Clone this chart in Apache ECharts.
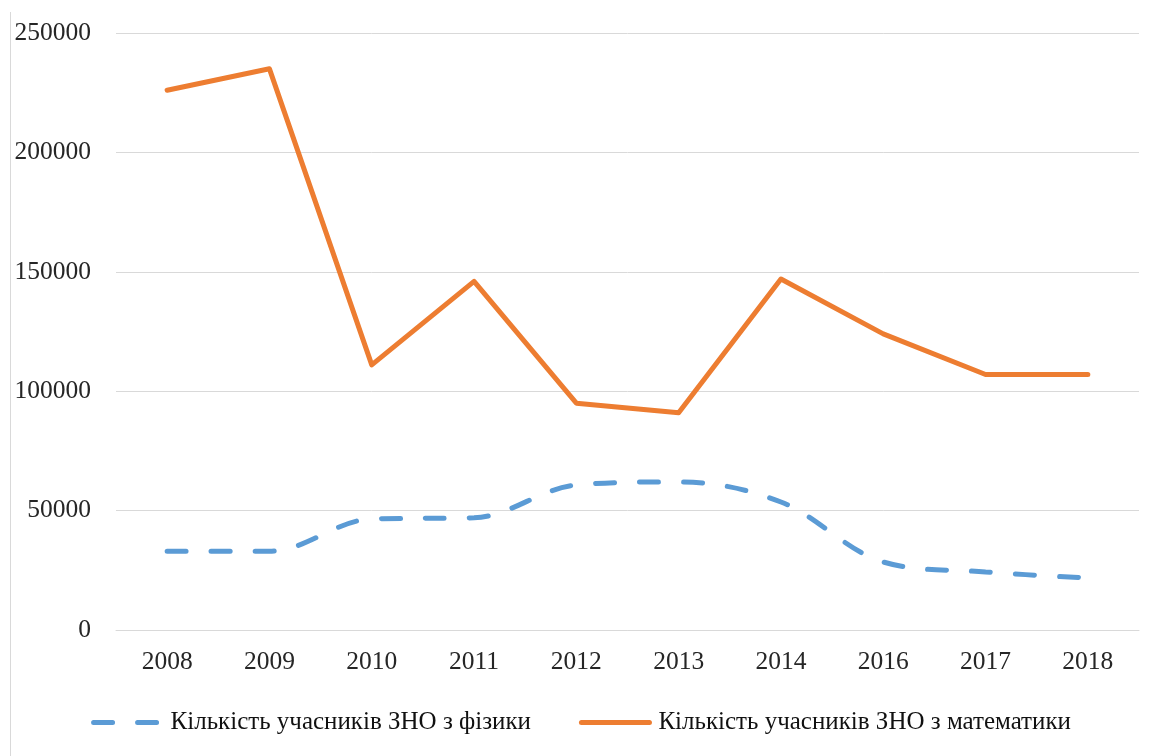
<!DOCTYPE html>
<html>
<head>
<meta charset="utf-8">
<script src="https://cdn.jsdelivr.net/npm/echarts@6/dist/echarts.min.js"></script>
<style>
  html, body { margin: 0; padding: 0; background: #fff; }
  #chart { width: 1162px; height: 756px; }
</style>
</head>
<body>
<div id="chart"></div>
<script>
const years = ['2008', '2009', '2010', '2011', '2012', '2013', '2014', '2016', '2017', '2018'];
const physics = [33000, 33000, 46500, 47000, 60700, 62000, 53600, 28500, 24300, 21800];
const maths = [226000, 235000, 111000, 146000, 95000, 91000, 147000, 124000, 107000, 107000];
const physicsName = 'Кількість учасників ЗНО з фізики';
const mathsName = 'Кількість учасників ЗНО з математики';

const font = '"Liberation Serif", "Times New Roman", serif';

let chart = echarts.init(document.getElementById('chart'));
chart.setOption({
    animation: false,
    grid: {
        left: 116,
        right: 23,
        top: 33,
        bottom: 126
    },
    legend: {
        bottom: 16,
        left: 'center',
        itemWidth: 68,
        itemHeight: 10,
        itemGap: 48,
        textStyle: {
            fontFamily: font,
            fontSize: 25,
            color: '#111',
            padding: [0, 0, 0, 4]
        },
        itemStyle: { opacity: 0 },
        lineStyle: { width: 5, cap: 'round' },
        data: [physicsName, mathsName]
    },
    xAxis: {
        type: 'category',
        data: years,
        axisLine: {
            lineStyle: { color: '#d9d9d9', width: 1 }
        },
        axisTick: { show: false },
        axisLabel: {
            margin: 19,
            fontFamily: font,
            fontSize: 25.5,
            color: '#262626'
        }
    },
    yAxis: {
        type: 'value',
        min: 0,
        max: 250000,
        interval: 50000,
        axisLine: { show: false },
        axisTick: { show: false },
        splitLine: {
            lineStyle: { color: '#d9d9d9', width: 1 }
        },
        axisLabel: {
            margin: 25,
            fontFamily: font,
            fontSize: 25.5,
            color: '#262626',
            formatter: (v)=>String(v)
        }
    },
    graphic: [{
        type: 'line',
        shape: { x1: 10.5, y1: 12, x2: 10.5, y2: 756 },
        style: { stroke: '#d9d9d9', lineWidth: 1 }
    }],
    series: [{
        name: physicsName,
        type: 'line',
        data: physics,
        smooth: 0.35,
        symbol: 'none',
        lineStyle: {
            color: '#5B9BD5',
            width: 5,
            type: [19, 25],
            cap: 'round'
        },
        itemStyle: { color: '#5B9BD5' }
    }, {
        name: mathsName,
        type: 'line',
        data: maths,
        symbol: 'none',
        lineStyle: {
            color: '#ED7D31',
            width: 5,
            cap: 'round',
            join: 'round'
        },
        itemStyle: { color: '#ED7D31' }
    }]
});
</script>
</body>
</html>
